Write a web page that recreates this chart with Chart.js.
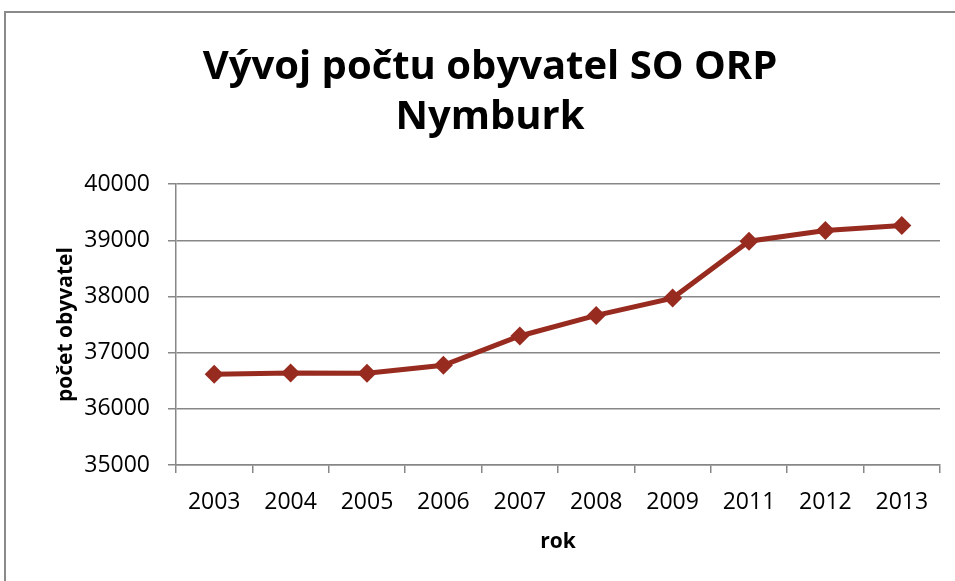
<!DOCTYPE html>
<html>
<head>
<meta charset="utf-8">
<script src="https://cdn.jsdelivr.net/npm/chart.js@4/dist/chart.umd.min.js"></script>
<style>
  html, body { margin: 0; padding: 0; background: #ffffff; }
  #wrap { width: 955px; height: 581px; position: relative; }
</style>
</head>
<body>
<div id="wrap"><canvas id="c" width="955" height="581"></canvas></div>
<script>
const titleLines = ['Vývoj počtu obyvatel SO ORP', 'Nymburk'];
const categories = ['2003', '2004', '2005', '2006', '2007', '2008', '2009', '2011', '2012', '2013'];
const population = [36616, 36640, 36632, 36776, 37297, 37664, 37972, 38984, 39174, 39263];
const yTickMin = 35000;
const yTickMax = 40000;
const yTickStep = 1000;
const xAxisTitle = 'rok';
const yAxisTitle = 'počet obyvatel';

const lineColor = '#982b1f';
const gridColor = '#878787';

const frame = {
  id: 'frame',
  beforeDraw(chart) {
    const ctx = chart.ctx;
    ctx.save();
    ctx.fillStyle = '#ffffff';
    ctx.fillRect(0, 0, chart.width, chart.height);
    ctx.strokeStyle = '#8a8a8a';
    ctx.lineWidth = 2;
    ctx.strokeRect(5, 12, 2000, 2000);
    ctx.restore();
  }
};

Chart.defaults.font.family = '"Open Sans", sans-serif';
Chart.defaults.color = '#000000';

new Chart(document.getElementById('c'), {
  type: 'line',
  data: {
    labels: categories,
    datasets: [{
      data: population,
      borderColor: lineColor,
      backgroundColor: lineColor,
      borderWidth: 5,
      pointStyle: 'rectRot',
      pointRadius: 9.5,
      pointHoverRadius: 9.5,
      pointBorderWidth: 0,
      tension: 0,
      fill: false
    }]
  },
  plugins: [frame],
  options: {
    responsive: false,
    animation: false,
    events: [],
    layout: { padding: { left: 40, right: 15, top: 12, bottom: 0 } },
    plugins: {
      legend: { display: false },
      tooltip: { enabled: false },
      title: {
        display: true,
        text: titleLines,
        color: '#000000',
        font: { family: '"Open Sans", sans-serif', size: 40, weight: 'bold', lineHeight: 1.24 },
        padding: { top: 31, bottom: 42 }
      }
    },
    scales: {
      x: {
        offset: true,
        afterFit(scale) { scale.height = 116; },
        grid: {
          offset: true,
          drawOnChartArea: false,
          drawTicks: true,
          tickLength: 8,
          color: gridColor,
          lineWidth: 1.5
        },
        border: { display: true, color: gridColor, width: 1.5 },
        ticks: {
          color: '#000000',
          font: { size: 23 },
          padding: 16,
          maxRotation: 0
        },
        title: {
          display: true,
          text: xAxisTitle,
          color: '#000000',
          font: { size: 21, weight: 'bold' },
          padding: { top: 0, bottom: 26 }
        }
      },
      y: {
        min: yTickMin,
        max: yTickMax,
        afterFit(scale) { scale.width = 136; },
        grid: {
          color: gridColor,
          lineWidth: 1.5,
          drawTicks: true,
          tickLength: 8
        },
        border: { display: true, color: gridColor, width: 1.5 },
        ticks: {
          stepSize: yTickStep,
          color: '#000000',
          font: { size: 23 },
          padding: 18,
          callback: (v) => String(v)
        },
        title: {
          display: true,
          text: yAxisTitle,
          color: '#000000',
          font: { size: 21, weight: 'bold' },
          padding: { top: 13, bottom: 0 }
        }
      }
    }
  }
});
</script>
</body>
</html>
